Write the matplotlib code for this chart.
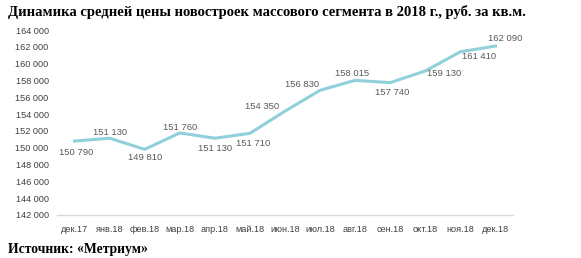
import matplotlib.pyplot as plt

months = ['дек.17', 'янв.18', 'фев.18', 'мар.18', 'апр.18', 'май.18', 'июн.18',
          'июл.18', 'авг.18', 'сен.18', 'окт.18', 'ноя.18', 'дек.18']
prices = [150790, 151130, 149810, 151760, 151130, 151710, 154350,
          156830, 158015, 157740, 159130, 161410, 162090]
yticks = list(range(142000, 164001, 2000))

# label offsets in pixels (dx, dy) relative to each point
label_offsets = [(2, -11), (0, 6), (0, -8), (0, 5), (0, -10), (3, -10), (-23, 5),
                 (-18, 6), (-3, 7), (2, -10), (19, -3), (19, -5), (10, 8)]


def fmt(v):
    return f'{v:,}'.replace(',', ' ')


fig = plt.figure(figsize=(5.81, 2.58), dpi=100)
ax = fig.add_axes([57 / 581, 43 / 258, 456 / 581, 185 / 258])
x = list(range(len(months)))
ax.plot(x, prices, color='#8fd0da', lw=2.2, solid_joinstyle='round')

for i, v in enumerate(prices):
    dx, dy = label_offsets[i]
    ax.annotate(fmt(v), (i, v), xytext=(dx, dy), textcoords='offset pixels',
                ha='center', va='center', fontsize=6.8, color='#595959',
                family='Liberation Sans')

ax.set_xlim(-0.5, len(months) - 0.5)
ax.set_ylim(142000, 164000)
ax.set_xticks(x)
ax.set_xticklabels(months, fontsize=6.6, color='#404040', family='Liberation Sans')
ax.set_yticks(yticks)
ax.set_yticklabels([fmt(t) for t in yticks], fontsize=6.6, color='#404040',
                   family='Liberation Sans')
ax.tick_params(axis='y', length=0, pad=6)
ax.tick_params(axis='x', length=0, pad=7)
for s in ['top', 'right', 'left']:
    ax.spines[s].set_visible(False)
ax.spines['bottom'].set_color('#d9d9d9')
ax.spines['bottom'].set_linewidth(1)

fig.text(8 / 581, 1 - 12 / 258, 'Динамика средней цены новостроек массового сегмента в 2018 г., руб. за кв.м.',
         fontsize=10.5, fontweight='bold', family='Liberation Serif', va='center', ha='left')
fig.text(8 / 581, 1 - 250 / 258, 'Источник: «Метриум»', fontsize=9.8, fontweight='bold',
         family='Liberation Serif', va='center', ha='left')

fig.savefig('out.png', dpi=100)
